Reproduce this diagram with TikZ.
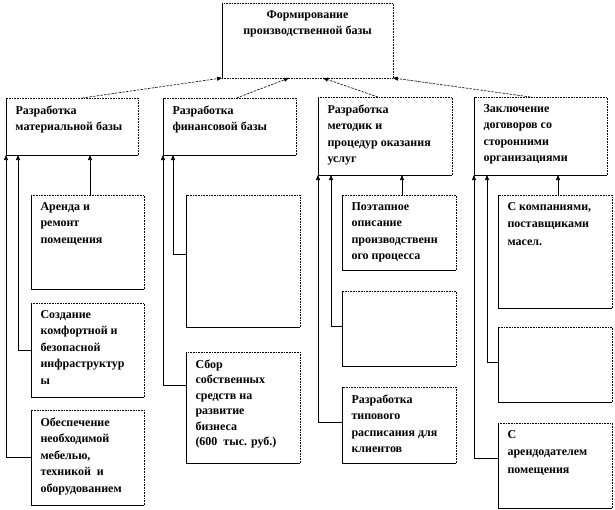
\documentclass[tikz,border=0pt]{standalone}
\usepackage{fontspec}
\setmainfont{Liberation Serif}
\usetikzlibrary{arrows.meta}
\usetikzlibrary{positioning}

\tikzset{
    block/.style = {anchor = north west, inner sep = 0pt, outer sep = 0pt,
        font = \bfseries\fontsize{12}{16.5}\selectfont},
    link/.style = {-{Triangle[length = 5pt, width = 4pt]}, line width = 0.6pt},
    feed/.style = {link, dash pattern = on 2.5pt off 1.2pt},
}
% box text: width, height, text
\newcommand\cell[3]{\parbox[c][#2][t]{#1}{\raggedright\leftskip=9.5pt\relax\vspace*{7.5pt}#3}}
% frame: solid left and bottom, dotted top and right
\newcommand\frameit[1]{%
    \draw[line width = 0.6pt] (#1.north west) -- (#1.south west) -- (#1.south east);
    \draw[line width = 0.6pt, densely dotted] (#1.south east) -- (#1.north east) -- (#1.north west);
}

\begin{document}
\begin{tikzpicture}[x = 1pt, y = -1pt]
    \useasboundingbox (0,0) rectangle (615,509);

    % top
    \node[block] (base) at (222,3) {\parbox[c][75pt][t]{171pt}{\centering\vspace*{7.5pt}Формирование\\ производственной базы}};

    % second row
    \node[block] (mat) at (6,98)   {\cell{132pt}{57pt}{Разработка\\ материальной базы}};
    \node[block] (fin) at (163,98) {\cell{133pt}{57pt}{Разработка\\ финансовой базы}};
    \node[block] (met) at (318,97) {\cell{134pt}{78pt}{Разработка\\ методик и\\ процедур оказания\\ услуг}};
    \node[block] (dog) at (474,97) {\cell{133pt}{78pt}{Заключение\\ договоров со\\ сторонними\\ организациями}};

    % column 1
    \node[block] (mat1) at (31,195) {\cell{113pt}{94pt}{Аренда и\\ ремонт\\ помещения}};
    \node[block] (mat2) at (31,303) {\cell{113pt}{94pt}{Создание\\ комфортной и\\ безопасной\\ инфраструктур\\ ы}};
    \node[block] (mat3) at (31,410) {\cell{113pt}{95pt}{Обеспечение\\ необходимой\\ мебелью,\\ техникой~ и\\ оборудованием}};

    % column 2
    \node[block, minimum width = 114pt, minimum height = 132pt] (fin1) at (186,195) {};
    \node[block] (fin2) at (186,352) {\cell{114pt}{111pt}{\fontsize{12}{15.5}\selectfont Сбор\\ собственных\\ средств на\\ развитие\\ бизнеса\\ (600~ тыс. руб.)}};

    % column 3
    \node[block] (met1) at (342,195) {\cell{114pt}{75pt}{Поэтапное\\ описание\\ производственн\\ ого процесса}};
    \node[block, minimum width = 114pt, minimum height = 75pt] (met2) at (342,291) {};
    \node[block] (met3) at (342,387) {\cell{114pt}{76pt}{Разработка\\ типового\\ расписания для\\ клиентов}};

    % column 4
    \node[block] (dog1) at (498,195) {\cell{114pt}{113pt}{\fontsize{12}{17.5}\selectfont С компаниями,\\ поставщиками\\ масел.}};
    \node[block, minimum width = 114pt, minimum height = 75pt] (dog2) at (498,327) {};
    \node[block] (dog3) at (498,423) {\cell{114pt}{85pt}{\fontsize{12}{17.5}\selectfont С\\ арендодателем\\ помещения}};

    \foreach \n in {mat, fin, met, dog, mat1, mat2, mat3, fin1, fin2, met1, met2, met3, dog1, dog2, dog3}
        {\frameit{\n}}
    \draw[line width = 0.6pt] (base.north west) -- (base.south west);
    \draw[line width = 0.6pt, densely dotted] (base.south west) -- (base.south east) -- (base.north east) -- (base.north west);

    % to the top box
    \draw[feed] ([xshift = 10pt]mat.north) -- (base.south west);
    \draw[feed] ([xshift = 7pt]fin.north) -- ([xshift = 67pt]base.south west);
    \draw[feed] ([xshift = -7pt]met.north) -- ([xshift = 101pt]base.south west);
    \draw[feed] ([xshift = -10pt]dog.north) -- (base.south east);

    % column 1
    \draw[link] (mat1.north -| 90,0) -- (mat.south -| 90,0);
    \draw[link] (mat2.west) -| (mat.south -| 18,0);
    \draw[link] (mat3.west) -| (mat.south west);

    % column 2
    \draw[link] ([yshift = 7pt]fin1.west) -| (fin.south -| 173,0);
    \draw[link] ([yshift = 22pt]fin2.west) -| (fin.south west);

    % column 3
    \draw[link] (met1.north -| 402,0) -- (met.south -| 402,0);
    \draw[link] ([yshift = 2pt]met2.west) -| (met.south -| 331,0);
    \draw[link] ([yshift = 3pt]met3.west) -| (met.south west);

    % column 4
    \draw[link] (dog1.north -| 558,0) -- (dog.south -| 558,0);
    \draw[link] ([yshift = 2pt]dog2.west) -| (dog.south -| 487,0);
    \draw[link] ([yshift = 7pt]dog3.west) -| (dog.south west);
\end{tikzpicture}
\end{document}
